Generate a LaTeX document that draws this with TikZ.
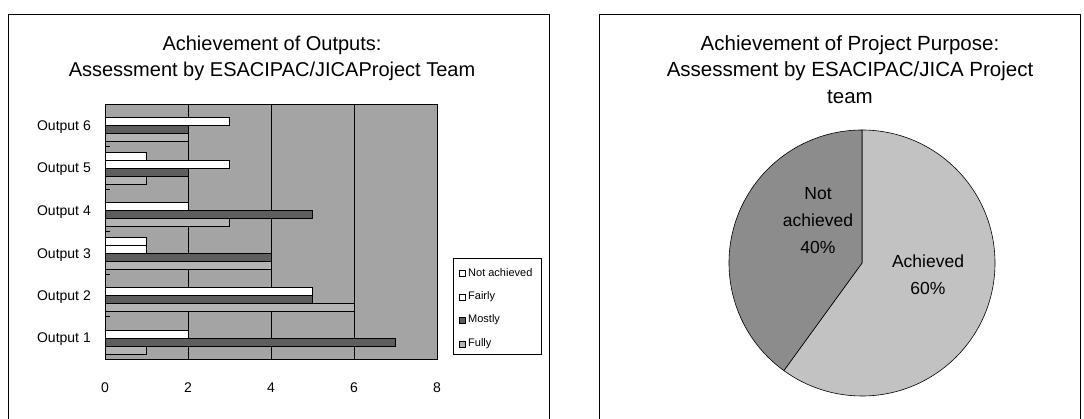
\documentclass[tikz,border=0pt]{standalone}
\usepackage{fontspec}
\setmainfont{Liberation Sans}
\definecolor{plotgray}{HTML}{A4A4A4}
\definecolor{fullygray}{HTML}{B4B4B4}
\definecolor{mostlygray}{HTML}{5E5E5E}
\definecolor{achievedgray}{HTML}{C2C2C2}
\definecolor{notachgray}{HTML}{8C8C8C}
\tikzset{
    panel/.style={draw=black, line width=0.9pt},
    charttitle/.style={font=\fontsize{20}{24}\selectfont, inner sep=0pt},
    catlabel/.style={font=\fontsize{14}{16}\selectfont, anchor=east, inner sep=0pt},
    ticklabel/.style={font=\fontsize{14}{16}\selectfont, inner sep=0pt},
    legtext/.style={font=\fontsize{11}{13}\selectfont, anchor=west, inner sep=0pt},
    legmark/.style={draw=black, line width=0.5pt, minimum size=6pt, inner sep=0pt},
    barnot/.style={draw=black, line width=0.6pt, fill=white},
    barfairly/.style={draw=black, line width=0.6pt, fill=white},
    barmostly/.style={draw=black, line width=0.6pt, fill=mostlygray},
    barfully/.style={draw=black, line width=0.6pt, fill=fullygray},
    slice/.style={draw=black, line width=0.6pt},
    pielabel/.style={font=\fontsize{17.5}{27}\selectfont, align=center, inner sep=0pt}
}
\begin{document}
\begin{tikzpicture}[x=1pt, y=-1pt]
    \useasboundingbox (0,0) rectangle (1084,419);
    % Outputs panel
    \draw[panel] (8,419) -- (8,14) -- (549,14) -- (549,419);
    \node[charttitle] (outtitle) at (272,45) {Achievement of Outputs:};
    \node[charttitle] (outsub) at (272,71) {Assessment by ESACIPAC/JICAProject Team};
    \node[catlabel] (out6) at (91,127) {Output 6};
    \node[catlabel] (out5) at (91,169) {Output 5};
    \node[catlabel] (out4) at (91,212) {Output 4};
    \node[catlabel] (out3) at (91,255) {Output 3};
    \node[catlabel] (out2) at (91,297) {Output 2};
    \node[catlabel] (out1) at (91,339) {Output 1};
    \begin{scope}[shift={(105,0)}, x=41.5pt]
        \fill[plotgray] (0,104) rectangle (8,359);
        \draw[line width=0.6pt] (2,104) -- (2,359);
        \draw[line width=0.6pt] (4,104) -- (4,359);
        \draw[line width=0.6pt] (6,104) -- (6,359);
        % Output 6
        \draw[barfairly] (0,117) rectangle (3,125);
        \draw[barmostly] (0,125) rectangle (2,133);
        \draw[barfully] (0,133) rectangle (2,141);
        % Output 5
        \draw[barnot] (0,152) rectangle (1,160);
        \draw[barfairly] (0,160) rectangle (3,168);
        \draw[barmostly] (0,168) rectangle (2,176);
        \draw[barfully] (0,176) rectangle (1,184);
        % Output 4
        \draw[barfairly] (0,202) rectangle (2,210);
        \draw[barmostly] (0,210) rectangle (5,218);
        \draw[barfully] (0,218) rectangle (3,226);
        % Output 3
        \draw[barnot] (0,237) rectangle (1,245);
        \draw[barfairly] (0,245) rectangle (1,253);
        \draw[barmostly] (0,253) rectangle (4,261);
        \draw[barfully] (0,261) rectangle (4,269);
        % Output 2
        \draw[barfairly] (0,287) rectangle (5,295);
        \draw[barmostly] (0,295) rectangle (5,303);
        \draw[barfully] (0,303) rectangle (6,311);
        % Output 1
        \draw[barfairly] (0,330) rectangle (2,338);
        \draw[barmostly] (0,338) rectangle (7,346);
        \draw[barfully] (0,346) rectangle (1,354);
        % Category ticks
        \draw[line width=0.8pt] (0,146.5) -- (0.13,146.5);
        \draw[line width=0.8pt] (0,189) -- (0.13,189);
        \draw[line width=0.8pt] (0,231.5) -- (0.13,231.5);
        \draw[line width=0.8pt] (0,274) -- (0.13,274);
        \draw[line width=0.8pt] (0,316.5) -- (0.13,316.5);
        \draw[line width=0.8pt] (0,104) rectangle (8,359);
        % Value axis
        \node[ticklabel] (tick0) at (0,388) {0};
        \node[ticklabel] (tick2) at (2,388) {2};
        \node[ticklabel] (tick4) at (4,388) {4};
        \node[ticklabel] (tick6) at (6,388) {6};
        \node[ticklabel] (tick8) at (8,388) {8};
    \end{scope}
    % Legend
    \draw[line width=0.7pt] (453,258) rectangle (541,354);
    \node[legmark, fill=white] (mnot) at (462,273) {};
    \node[legtext] (lnot) at (468,273) {Not achieved};
    \node[legmark, fill=white] (mfairly) at (462,297) {};
    \node[legtext] (lfairly) at (468,297) {Fairly};
    \node[legmark, fill=mostlygray] (mmostly) at (462,320) {};
    \node[legtext] (lmostly) at (468,320) {Mostly};
    \node[legmark, fill=fullygray] (mfully) at (462,344) {};
    \node[legtext] (lfully) at (468,344) {Fully};
    % Purpose panel
    \draw[panel] (599,419) -- (599,14) -- (1080,14) -- (1080,419);
    \node[charttitle, font=\fontsize{20.5}{24}\selectfont] (purtitle) at (850,45) {Achievement of Project Purpose:};
    \node[charttitle, font=\fontsize{20.5}{24}\selectfont] (pursub) at (850,71) {Assessment by ESACIPAC/JICA Project};
    \node[charttitle, font=\fontsize{20.5}{24}\selectfont] (purteam) at (850,97) {team};
    \begin{scope}[shift={(862,263)}, y=1pt]
        \filldraw[slice, fill=achievedgray] (0,0) -- (90:133) arc (90:-126:133) -- cycle;
        \filldraw[slice, fill=notachgray] (0,0) -- (234:133) arc (234:90:133) -- cycle;
    \end{scope}
    \node[pielabel] (lnotach) at (818,221) {Not\\achieved\\40\%};
    \node[pielabel] (lach) at (928,275) {Achieved\\60\%};
\end{tikzpicture}
\end{document}
